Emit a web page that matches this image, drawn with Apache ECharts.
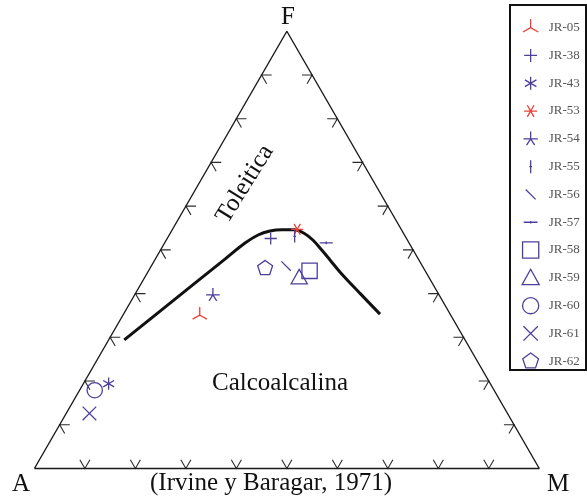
<!DOCTYPE html>
<html><head><meta charset="utf-8">
<script src="https://cdn.jsdelivr.net/npm/echarts@6/dist/echarts.min.js"></script>
<style>html,body{margin:0;padding:0;background:#fff}#c{width:587px;height:501px}</style>
</head><body><div id="c"></div>
<script>
// ---- data (percentages A / F / M) ----
const samples = ['JR-05','JR-38','JR-43','JR-53','JR-54','JR-55','JR-56','JR-57','JR-58','JR-59','JR-60','JR-61','JR-62'];
const valA = [49.7, 26.9, 75.6, 20.6, 44.8, 21.9, 27.0, 16.4, 22.9, 25.7, 79.1, 82.8, 31.4];
const valF = [35.1, 52.6, 19.4, 54.7, 39.7, 53.1, 46.3, 51.6, 45.2, 43.7, 17.9, 12.6, 45.8];
const valM = [15.2, 20.5,  5.0, 24.7, 15.5, 25.0, 26.7, 32.0, 31.9, 30.6,  3.0,  4.6, 22.8];

// Irvine & Baragar (1971) boundary (F and M percentages, A = rest)
const boundaryF = [29.4, 36.0, 42.4, 47.9, 51.5, 53.4, 54.3, 54.6, 54.6, 53.8, 52.2, 49.9, 47.7, 44.9, 40.1, 35.3];
const boundaryM = [ 3.1,  6.9, 10.6, 13.8, 15.9, 17.6, 19.5, 21.7, 24.1, 26.5, 29.1, 32.0, 34.7, 38.1, 44.4, 50.8];

// triangle vertices [A, F, M]
const vertexA = [100, 0, 0, 100];
const vertexF = [0, 0, 100, 0];
const vertexM = [0, 100, 0, 0];
const tickSteps = [10, 20, 30, 40, 50, 60, 70, 80, 90];

// ---- helpers ----
const S3 = Math.sqrt(3) / 2;
function toXY(a, f, m) { const t = a + f + m; const ff = f / t, mm = m / t; return [mm + ff / 2, ff * S3]; }

const purple = '#4e3f9c', red = '#e8413a';
const B = 'M-1,-1M1,1';
const symbolOf = {
  'JR-05': 'path://' + B + 'M0,-0.95L0,0L-0.84,0.48M0,0L0.84,0.48',
  'JR-38': 'path://' + B + 'M-0.72,0L0.72,0M0,-0.72L0,0.72',
  'JR-43': 'path://' + B + 'M0,-0.72L0,0.72M-0.64,-0.37L0.64,0.37M-0.64,0.37L0.64,-0.37',
  'JR-53': 'path://' + B + 'M-0.72,0L0.72,0M-0.37,-0.64L0.37,0.64M-0.37,0.64L0.37,-0.64',
  'JR-54': 'path://' + B + 'M-0.8,0L0.8,0M0,-0.82L0,0L-0.45,0.7M0,0L0.45,0.7',
  'JR-55': 'path://' + B + 'M0,-0.72L0,0.72M-0.15,0L0.15,0',
  'JR-56': 'path://' + B + 'M-0.55,-0.55L0.55,0.55',
  'JR-57': 'path://' + B + 'M-0.77,0L0.77,0M0,-0.15L0,0.15',
  'JR-58': 'path://' + B + 'M-0.9,-0.9L0.9,-0.9L0.9,0.9L-0.9,0.9Z',
  'JR-59': 'path://' + B + 'M0,-0.95L0.95,0.75L-0.95,0.75Z',
  'JR-60': 'path://' + B + 'M0.9,0A0.9,0.9,0,1,1,-0.9,0A0.9,0.9,0,1,1,0.9,0Z',
  'JR-61': 'path://' + B + 'M-0.8,-0.8L0.8,0.8M-0.8,0.8L0.8,-0.8',
  'JR-62': 'path://' + B + 'M0,-0.92L0.875,-0.284L0.541,0.744L-0.541,0.744L-0.875,-0.284Z'
};
const colorOf = name => (name === 'JR-05' || name === 'JR-53') ? red : purple;

// ---- build geometry from data ----
const triangleData = vertexA.map((a, i) => toXY(a, vertexF[i], vertexM[i]));
const boundaryData = boundaryF.map((f, i) => toXY(100 - f - boundaryM[i], f, boundaryM[i]));

const L = 0.02;
const tickData = [];
tickSteps.forEach(s => {
  const t = s / 100;
  // bottom edge A->M
  let ax = t, ay = 0;
  tickData.push([ax - 0.5 * L, ay + S3 * L, ax, ay, ax + 0.5 * L, ay + S3 * L]);
  // left edge A->F
  ax = 0.5 * t; ay = S3 * t;
  tickData.push([ax + L, ay, ax, ay, ax + 0.5 * L, ay - S3 * L]);
  // right edge M->F
  ax = 1 - 0.5 * t; ay = S3 * t;
  tickData.push([ax - L, ay, ax, ay, ax - 0.5 * L, ay - S3 * L]);
});

const pointSeries = samples.map((name, i) => ({
  type: 'scatter',
  name: name,
  z: 5,
  symbol: symbolOf[name],
  symbolSize: 17,
  data: [toXY(valA[i], valF[i], valM[i])],
  itemStyle: { color: 'rgba(0,0,0,0)', borderColor: colorOf(name), borderWidth: 1.3, opacity: 1 },
  emphasis: { disabled: true }
}));

// axis mapping: 1 unit = 504.9 px both directions
const U = 504.9, X0 = 34.4, Y0 = 468.5, W = 587, H = 501;

const chart = echarts.init(document.getElementById('c'), null, { renderer: 'canvas' });
const serif = "'Liberation Serif', 'Times New Roman', serif";
chart.setOption({
  animation: false,
  backgroundColor: '#fff',
  grid: { left: 0, right: 0, top: 0, bottom: 0, containLabel: false },
  xAxis: { type: 'value', min: -X0 / U, max: (W - X0) / U, show: false },
  yAxis: { type: 'value', min: -(H - Y0) / U, max: Y0 / U, show: false },
  legend: {
    data: samples, orient: 'vertical', left: 521, top: 18, padding: 0,
    itemWidth: 18, itemHeight: 18, itemGap: 8.5, selectedMode: false,
    textStyle: { fontFamily: serif, fontSize: 13, color: '#555', padding: [0, 0, 0, 4], lineHeight: 16 },
    itemStyle: { borderWidth: 1.3 }
  },
  series: [
    { type: 'line', name: 'frame', data: triangleData, symbol: 'none', z: 2,
      lineStyle: { color: '#1a1a1a', width: 1.4 }, silent: true },
    { type: 'custom', name: 'ticks', data: tickData, z: 2, silent: true,
      encode: { x: [0, 2, 4], y: [1, 3, 5] },
      renderItem: function (params, api) {
        const p1 = api.coord([api.value(0), api.value(1)]);
        const p2 = api.coord([api.value(2), api.value(3)]);
        const p3 = api.coord([api.value(4), api.value(5)]);
        return { type: 'polyline', shape: { points: [p1, p2, p3] }, style: { stroke: '#2a2a2a', lineWidth: 1.1, fill: null } };
      } },
    { type: 'line', name: 'boundary', data: boundaryData, symbol: 'none', smooth: 0.35, z: 3,
      lineStyle: { color: '#111', width: 3 }, silent: true }
  ].concat(pointSeries),
  graphic: [
    { type: 'rect', shape: { x: 510, y: 5, width: 76, height: 365 }, style: { fill: null, stroke: '#111', lineWidth: 2 }, z: 10 },
    { type: 'text', x: 288, y: 17, style: { text: 'F', font: '25px ' + serif, fill: '#111', textAlign: 'center', textVerticalAlign: 'middle' } },
    { type: 'text', x: 21, y: 484, style: { text: 'A', font: '25px ' + serif, fill: '#111', textAlign: 'center', textVerticalAlign: 'middle' } },
    { type: 'text', x: 558, y: 484, style: { text: 'M', font: '25px ' + serif, fill: '#111', textAlign: 'center', textVerticalAlign: 'middle' } },
    { type: 'text', x: 271, y: 483, style: { text: '(Irvine y Baragar, 1971)', font: '25px ' + serif, fill: '#111', textAlign: 'center', textVerticalAlign: 'middle' } },
    { type: 'text', x: 280, y: 383, style: { text: 'Calcoalcalina', font: '25px ' + serif, fill: '#111', textAlign: 'center', textVerticalAlign: 'middle' } },
    { type: 'text', x: 245, y: 184, rotation: 58 * Math.PI / 180, style: { text: 'Toleitica', font: '25px ' + serif, fill: '#111', textAlign: 'center', textVerticalAlign: 'middle' } }
  ]
});
</script></body></html>
